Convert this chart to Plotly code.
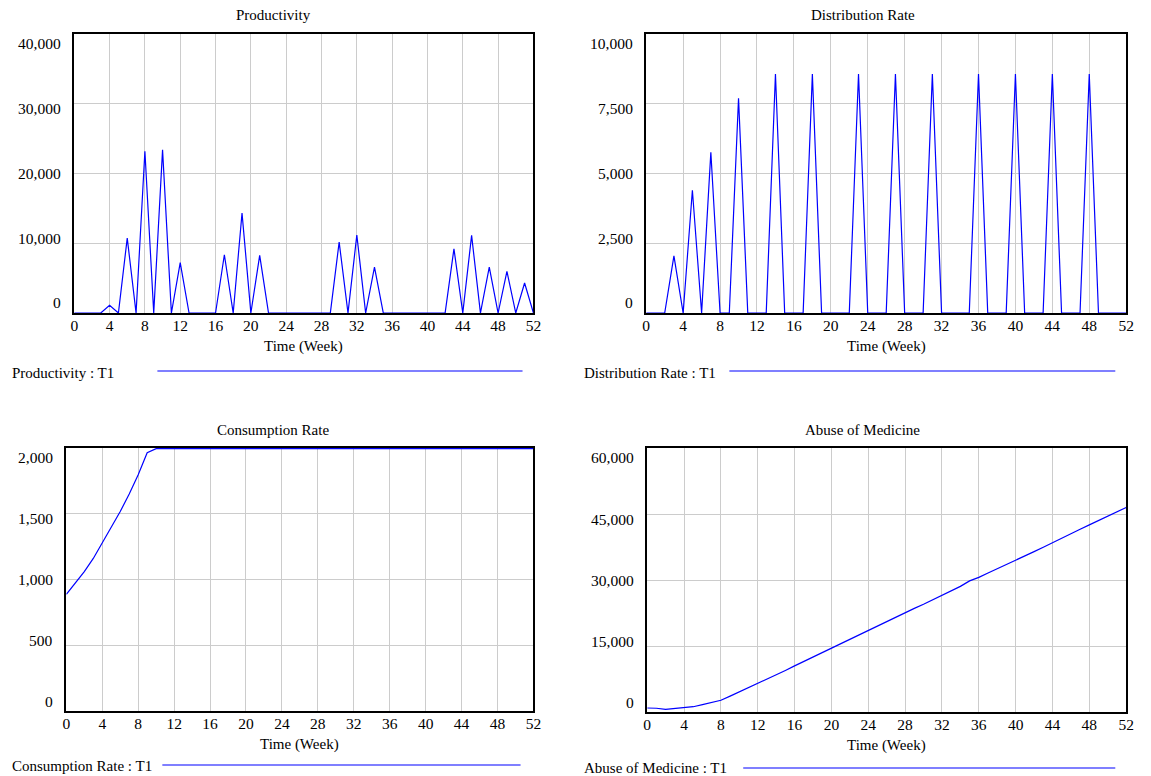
import plotly.graph_objects as go

W, H = 1151, 776
FONT = "Liberation Serif"

weeks = list(range(0, 53))
week_ticks = list(range(0, 53, 4))

productivity = [0, 0, 0, 0, 1100, 0, 10740, 0, 23200, 0, 23390, 0, 7210, 0,
                0, 0, 0, 8350, 0, 14320, 0, 8260, 0, 0, 0, 0, 0, 0, 0, 0,
                10170, 0, 11170, 0, 6590, 0, 0, 0, 0, 0, 0, 0, 0, 9210, 0,
                11120, 0, 6590, 0, 5970, 0, 4300, 0]

distribution = [0, 0, 0, 2050, 0, 4400, 0, 5760, 0, 0, 7700, 0, 0, 0,
                8570, 0, 0, 0, 8570, 0, 0, 0, 0, 8570, 0, 0, 0, 8570, 0, 0,
                0, 8570, 0, 0, 0, 0, 8570, 0, 0, 0, 8570, 0, 0, 0, 8570, 0,
                0, 0, 8570, 0, 0, 0, 0]

consumption = [887, 970, 1060, 1160, 1276, 1390, 1517, 1650, 1797, 1964] + [1995] * 43

abuse = [911, 850, 608, 760, 911, 1200, 1670, 2100, 2658, 3600, 4550, 5500,
         6456, 7500, 8500, 9450, 10481, 11500, 12450, 13450, 14430, 15550,
         16500, 17550, 18608, 19600, 20600, 21600, 22557, 23550, 24500,
         25550, 26582, 27600, 28550, 29800, 30600, 31600, 32550, 33500,
         34405, 35450, 36450, 37450, 38506, 39600, 40550, 41550, 42532,
         43550, 44550, 45500, 46481]

prod_ticks = [0, 10000, 20000, 30000, 40000]
dist_ticks = [0, 2500, 5000, 7500, 10000]
cons_ticks = [0, 500, 1000, 1500, 2000]
abuse_ticks = [0, 15000, 30000, 45000, 60000]

titles = ["Productivity", "Distribution Rate", "Consumption Rate", "Abuse of Medicine"]
legend_labels = ["Productivity : T1", "Distribution Rate : T1",
                 "Consumption Rate : T1", "Abuse of Medicine : T1"]
x_title = "Time (Week)"

series = [productivity, distribution, consumption, abuse]
yticks = [prod_ticks, dist_ticks, cons_ticks, abuse_ticks]

# panel geometry in pixels: (left, right, top, bottom)
boxes = [(71, 535, 34, 313), (649, 1134, 34, 313),
         (63, 535, 448, 711), (650, 1134, 448, 712)]
title_pos = [(272, 15), (868, 15), (272, 430), (868, 430)]
legend_geo = [  # text_x, text_y, line_x0, line_x1, line_y
    (6, 373, 155, 524, 371),
    (584, 373, 733, 1123, 371),
    (6, 766, 160, 522, 765),
    (584, 768, 747, 1123, 768),
]

fig = go.Figure()
annotations = []
shapes = []

for i in range(4):
    n = "" if i == 0 else str(i + 1)
    xa, ya = "x" + n, "y" + n
    l, r, t, b = boxes[i]
    fig.add_trace(go.Scatter(x=weeks, y=series[i], mode="lines",
                             line=dict(color="#0000ff", width=1.2),
                             xaxis=xa, yaxis=ya, showlegend=False,
                             hoverinfo="x+y"))
    ticks = yticks[i]
    common = dict(showline=True, mirror=True, linecolor="black", linewidth=2,
                  showgrid=True, gridcolor="#cccccc", gridwidth=1,
                  zeroline=False, ticks="", layer="below traces")
    fig.layout["xaxis" + n] = dict(
        domain=[l / W, r / W], anchor=ya, range=[0, 52],
        tickmode="array", tickvals=week_ticks,
        ticktext=[str(v) for v in week_ticks], ticklabelstandoff=-3,
        tickfont=dict(family=FONT, size=15.5, color="black"), **common)
    fig.layout["yaxis" + n] = dict(
        domain=[1 - b / H, 1 - t / H], anchor=xa, range=[ticks[0], ticks[-1]],
        tickmode="array", tickvals=ticks, showticklabels=False, **common)
    # y tick labels (Vensim-style, pulled inwards at the ends)
    for v in ticks:
        f = (v - ticks[0]) / (ticks[-1] - ticks[0])
        annotations.append(dict(
            text=f"{v:,}", xref=xa + " domain", x=0, xshift=-11, xanchor="right",
            yref=ya, y=v, yshift=10 * (1 - 2 * f), yanchor="middle",
            showarrow=False, font=dict(family=FONT, size=15.5, color="black")))
    # x axis title
    annotations.append(dict(
        text=x_title, xref=xa + " domain", x=0.5, xanchor="center",
        yref="paper", y=1 - (b + 33) / H, yanchor="middle", showarrow=False,
        font=dict(family=FONT, size=15, color="black")))
    # panel title
    tx, ty = title_pos[i]
    annotations.append(dict(
        text=titles[i], xref="paper", x=tx / W, xanchor="center",
        yref="paper", y=1 - ty / H, yanchor="middle", showarrow=False,
        font=dict(family=FONT, size=15, color="black")))
    # legend entry
    lx, ly, x0, x1, lyl = legend_geo[i]
    annotations.append(dict(
        text=legend_labels[i], xref="paper", x=lx / W, xanchor="left",
        yref="paper", y=1 - ly / H, yanchor="middle", showarrow=False,
        font=dict(family=FONT, size=15, color="black")))
    shapes.append(dict(type="line", xref="paper", yref="paper",
                       x0=x0 / W, x1=x1 / W, y0=1 - lyl / H, y1=1 - lyl / H,
                       line=dict(color="#0000ff", width=1.2)))

fig.update_layout(width=W, height=H, margin=dict(l=0, r=0, t=0, b=0),
                  paper_bgcolor="white", plot_bgcolor="white",
                  annotations=annotations, shapes=shapes,
                  font=dict(family=FONT, color="black"), showlegend=False)

fig.write_html("out.html", config={"displayModeBar": False},
               post_script="document.body.style.margin='0';"
                           "document.body.style.overflow='hidden';")
